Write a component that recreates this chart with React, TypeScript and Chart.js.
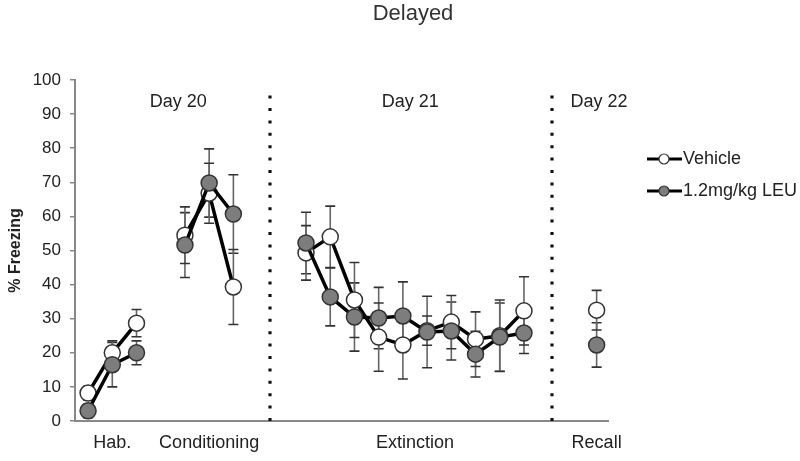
import React, { useEffect, useRef } from "react";
import { Chart, registerables } from "chart.js";

Chart.register(...registerables);

const chartTitle = "Delayed";
const yAxisTitle = "% Freezing";
const xPositions = [0, 1, 2, 4, 5, 6, 9, 10, 11, 12, 13, 14, 15, 16, 17, 18, 21];
const gapPositions = [3, 7, 19];
const vehicleMean = [8.2, 20, 28.7, 54.5, 66.8, 39.3, 49.3, 54, 35.5, 24.6, 22.3, 26.5, 29, 24, 25, 32.3, 32.5];
const vehicleSem = [2, 3.5, 4, 8.3, 8.8, 11, 8, 9, 11, 10, 10, 4.3, 7.8, 8, 10.5, 10, 5.8];
const leuMean = [3, 16.5, 20, 51.6, 69.8, 60.7, 52.2, 36.4, 30.5, 30.2, 30.8, 26.1, 26.4, 19.6, 24.6, 25.8, 22.3];
const leuSem = [2, 6.5, 3.5, 9.5, 10, 11.5, 9, 8.5, 10, 9, 10, 10.5, 8.5, 6.7, 10, 6, 6.5];
const seriesNames = ["Vehicle", "1.2mg/kg LEU"];
const phaseLabels = ["Hab.", "Conditioning", "Extinction", "Recall"];
const phaseCenters = [1, 5, 13.5, 21];
const dayLabels = ["Day 20", "Day 21", "Day 22"];
const dayCenters = [3.72, 13.3, 21.1];
const dividers = [7.5, 19.15];
const yTicks = [0, 10, 20, 30, 40, 50, 60, 70, 80, 90, 100];

const FONT = "'Liberation Sans', Arial, sans-serif";
const TEXT = "#222";

function buildPoints(means: number[]) {
  const pts: { x: number; y: number | null }[] = xPositions.map((x, i) => ({ x, y: means[i] }));
  gapPositions.forEach((g) => pts.push({ x: g, y: null }));
  pts.sort((a, b) => a.x - b.x);
  return pts;
}

const series = [
  { name: seriesNames[1], means: leuMean, sems: leuSem, fill: "#7d7d7d" },
  { name: seriesNames[0], means: vehicleMean, sems: vehicleSem, fill: "#ffffff" },
];

const decorPlugin = {
  id: "decor",
  beforeDatasetsDraw(chart: any) {
    const { ctx, chartArea, scales } = chart;
    const xs = scales.x;
    const ys = scales.y;
    ctx.save();
    ctx.strokeStyle = "#111";
    ctx.lineWidth = 3.2;
    ctx.setLineDash([3, 9.4]);
    dividers.forEach((d) => {
      const px = Math.round(xs.getPixelForValue(d));
      ctx.beginPath();
      ctx.moveTo(px, chartArea.bottom);
      ctx.lineTo(px, chartArea.top + 8);
      ctx.stroke();
    });
    ctx.setLineDash([]);
    series.forEach((s) => {
      xPositions.forEach((x, i) => {
        const px = xs.getPixelForValue(x);
        const top = ys.getPixelForValue(s.means[i] + s.sems[i]);
        const bot = ys.getPixelForValue(s.means[i] - s.sems[i]);
        ctx.strokeStyle = "#666";
        ctx.lineWidth = 1.6;
        ctx.beginPath();
        ctx.moveTo(px, top);
        ctx.lineTo(px, bot);
        ctx.stroke();
        ctx.strokeStyle = "#333";
        ctx.beginPath();
        ctx.moveTo(px - 5, top);
        ctx.lineTo(px + 5, top);
        ctx.moveTo(px - 5, bot);
        ctx.lineTo(px + 5, bot);
        ctx.stroke();
      });
    });
    ctx.restore();
  },
  afterDraw(chart: any) {
    const { ctx, chartArea, scales } = chart;
    const xs = scales.x;
    ctx.save();
    ctx.fillStyle = "#333";
    ctx.textAlign = "center";
    ctx.textBaseline = "middle";
    ctx.font = `22px ${FONT}`;
    ctx.fillText(chartTitle, 413, 14);
    ctx.fillStyle = TEXT;
    ctx.font = `18px ${FONT}`;
    dayLabels.forEach((t, i) => {
      ctx.fillText(t, xs.getPixelForValue(dayCenters[i]), chartArea.top + 22);
    });
    ctx.save();
    ctx.translate(16, (chartArea.top + chartArea.bottom) / 2);
    ctx.rotate(-Math.PI / 2);
    ctx.font = `bold 16px ${FONT}`;
    ctx.fillText(yAxisTitle, 0, 0);
    ctx.restore();
    const legendSeries = [series[1], series[0]];
    const lx = chartArea.right + 39;
    legendSeries.forEach((s, i) => {
      const y = 159 + i * 32;
      ctx.strokeStyle = "#000";
      ctx.lineWidth = 3;
      ctx.beginPath();
      ctx.moveTo(lx, y);
      ctx.lineTo(lx + 35, y);
      ctx.stroke();
      ctx.beginPath();
      ctx.arc(lx + 17, y, 5, 0, Math.PI * 2);
      ctx.fillStyle = s.fill;
      ctx.fill();
      ctx.lineWidth = 1.2;
      ctx.strokeStyle = "#333";
      ctx.stroke();
      ctx.fillStyle = TEXT;
      ctx.textAlign = "left";
      ctx.font = `18px ${FONT}`;
      ctx.fillText(s.name, lx + 36, y);
    });
    ctx.restore();
  },
};

export default function App() {
  const ref = useRef<HTMLCanvasElement | null>(null);
  useEffect(() => {
    if (!ref.current) return;
    Chart.defaults.font.family = FONT;
    const chart = new Chart(ref.current, {
      type: "line",
      data: {
        datasets: series.map((s, i) => ({
          label: s.name,
          data: buildPoints(s.means) as any,
          order: i,
          borderColor: "#000",
          borderWidth: 3.5,
          pointRadius: 8,
          pointHoverRadius: 8,
          pointBorderWidth: 1.5,
          pointBorderColor: "#333",
          pointBackgroundColor: s.fill,
          spanGaps: false,
          tension: 0,
        })),
      },
      options: {
        animation: false,
        responsive: true,
        maintainAspectRatio: false,
        layout: { padding: { top: 80, right: 192, left: 0, bottom: 0 } },
        plugins: { legend: { display: false }, tooltip: { enabled: false }, title: { display: false } },
        scales: {
          x: {
            type: "linear",
            min: -0.54,
            max: 21.47,
            afterFit: (s: any) => {
              s.height = 40;
            },
            afterBuildTicks: (s: any) => {
              s.ticks = phaseCenters.map((v) => ({ value: v }));
            },
            ticks: {
              autoSkip: false,
              maxRotation: 0,
              padding: 11,
              color: TEXT,
              font: { size: 18, family: FONT },
              callback: (v: any) => {
                const idx = phaseCenters.indexOf(Number(v));
                return idx >= 0 ? phaseLabels[idx] : "";
              },
            },
            grid: { display: false, drawTicks: false },
            border: { display: true, color: "#888", width: 2 },
          },
          y: {
            min: 0,
            max: 100,
            afterFit: (s: any) => {
              s.width = 75;
            },
            afterBuildTicks: (s: any) => {
              s.ticks = yTicks.map((v) => ({ value: v }));
            },
            ticks: { padding: 9, color: TEXT, font: { size: 17, family: FONT } },
            grid: { drawOnChartArea: false, drawTicks: true, tickLength: 5, color: "#888", lineWidth: 1.5 },
            border: { display: true, color: "#888", width: 2 },
          },
        },
      },
      plugins: [decorPlugin],
    });
    return () => chart.destroy();
  }, []);
  return (
    <div style={{ position: "fixed", left: 0, top: 0, width: 800, height: 461, background: "#fff" }}>
      <canvas ref={ref} />
    </div>
  );
}
